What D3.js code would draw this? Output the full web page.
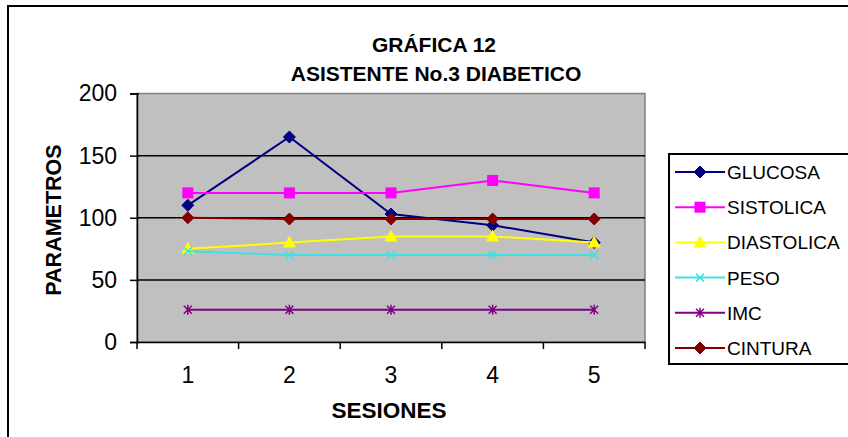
<!DOCTYPE html>
<html><head><meta charset="utf-8">
<script src="https://cdn.jsdelivr.net/npm/d3@7"></script>
<style>html,body{margin:0;padding:0;background:#fff;overflow:hidden}</style>
</head><body>
<svg id="c" width="848" height="437"></svg>
<script>
const sessions = ["1","2","3","4","5"];
const yTicks = [0,50,100,150,200];
const seriesNames = ["GLUCOSA","SISTOLICA","DIASTOLICA","PESO","IMC","CINTURA"];
const glucosa    = [110,165,103,94,80];
const sistolica  = [120,120,120,130,120];
const diastolica = [75,80,85,85,80];
const peso       = [73,70,70,70,70];
const imc        = [26,26,26,26,26];
const cintura    = [100,99,99,99,99];
const seriesColors = ["#000080","#FF00FF","#FFFF00","#40E0E0","#800080","#800000"];
const seriesMarkers = ["diamond","square","triangle","x","star","diamond"];
const seriesValues = [glucosa,sistolica,diastolica,peso,imc,cintura];

const svg = d3.select("#c");
const font = "'Liberation Sans', Arial, sans-serif";

// outer frame
svg.append("rect").attr("x",8).attr("y",6).attr("width",900).attr("height",460)
  .attr("fill","#fff").attr("stroke","#000").attr("stroke-width",2);

const L=137, R=645, T=93.5, B=342;
const x = d3.scaleBand().domain(sessions).range([L,R]);
const y = d3.scaleLinear().domain([0,200]).range([B,T]);

// plot area
svg.append("rect").attr("x",L).attr("y",T).attr("width",R-L).attr("height",B-T)
  .attr("fill","#C0C0C0").attr("stroke","#808080").attr("stroke-width",1.5);

// gridlines
svg.append("g").selectAll("line").data(yTicks.filter(d=>d>0&&d<200)).join("line")
  .attr("x1",L).attr("x2",R).attr("y1",d=>y(d)).attr("y2",d=>y(d))
  .attr("stroke","#000").attr("stroke-width",1.5);

// axes
const yAxis = d3.axisLeft(y).tickValues(yTicks).tickSize(7).tickPadding(13);
const gy = svg.append("g").attr("transform",`translate(${L},0)`).call(yAxis);
gy.select(".domain").attr("stroke","#000").attr("stroke-width",1.5);
gy.selectAll(".tick line").attr("stroke","#000").attr("stroke-width",1.5).attr("x1",2).attr("x2",-7);
gy.selectAll(".tick text").attr("font-family",font).attr("font-size",23).attr("fill","#000");

const xAxis = d3.axisBottom(x).tickSize(0).tickPadding(25);
const gx = svg.append("g").attr("transform",`translate(0,${B})`).call(xAxis);
gx.select(".domain").attr("stroke","#000").attr("stroke-width",1.5);
gx.selectAll(".tick text").attr("font-family",font).attr("font-size",23).attr("fill","#000");
gx.append("g").selectAll("line").data(sessions).join("line")
  .attr("x1",d=>x(d)).attr("x2",d=>x(d)).attr("y1",0).attr("y2",7)
  .attr("stroke","#000").attr("stroke-width",1.5);
gx.append("line").attr("x1",R).attr("x2",R).attr("y1",0).attr("y2",7)
  .attr("stroke","#000").attr("stroke-width",1.5);

// titles
svg.append("text").attr("x",434).attr("y",52).attr("text-anchor","middle")
  .attr("font-family",font).attr("font-weight","bold").attr("font-size",21).text("GRÁFICA 12");
svg.append("text").attr("x",436).attr("y",81).attr("text-anchor","middle")
  .attr("font-family",font).attr("font-weight","bold").attr("font-size",21).text("ASISTENTE No.3 DIABETICO");
svg.append("text").attr("x",389).attr("y",418).attr("text-anchor","middle")
  .attr("font-family",font).attr("font-weight","bold").attr("font-size",22.5).text("SESIONES");
svg.append("text").attr("transform","translate(61,220) rotate(-90)").attr("text-anchor","middle")
  .attr("font-family",font).attr("font-weight","bold").attr("font-size",21.5).text("PARAMETROS");

function marker(g, type, color, cx, cy){
  if(type==="diamond"){
    g.append("path").attr("d",`M${cx},${cy-6}L${cx+6},${cy}L${cx},${cy+6}L${cx-6},${cy}Z`)
      .attr("fill",color).attr("stroke",color).attr("stroke-width",1);
  } else if(type==="square"){
    g.append("rect").attr("x",cx-5.5).attr("y",cy-5.5).attr("width",11).attr("height",11).attr("fill",color);
  } else if(type==="triangle"){
    g.append("path").attr("d",`M${cx},${cy-7}L${cx+6.5},${cy+5}L${cx-6.5},${cy+5}Z`).attr("fill",color);
  } else if(type==="x"){
    g.append("path").attr("d",`M${cx-4},${cy-4}L${cx+4},${cy+4}M${cx-4},${cy+4}L${cx+4},${cy-4}`)
      .attr("stroke",color).attr("stroke-width",1.5);
  } else if(type==="star"){
    g.append("path").attr("d",`M${cx-4},${cy-4}L${cx+4},${cy+4}M${cx-4},${cy+4}L${cx+4},${cy-4}M${cx},${cy-5}L${cx},${cy+5}`)
      .attr("stroke",color).attr("stroke-width",1.5);
  }
}

const line = d3.line().x((d,i)=>x(sessions[i])+x.bandwidth()/2).y(d=>y(d));
seriesValues.forEach((vals,si)=>{
  const g = svg.append("g");
  g.append("path").attr("d",line(vals)).attr("fill","none")
    .attr("stroke",seriesColors[si]).attr("stroke-width",2);
  vals.forEach((v,i)=>marker(g,seriesMarkers[si],seriesColors[si],x(sessions[i])+x.bandwidth()/2,y(v)));
});

// legend
const lg = svg.append("g");
lg.append("rect").attr("x",669).attr("y",154).attr("width",200).attr("height",210)
  .attr("fill","#fff").attr("stroke","#000").attr("stroke-width",2);
seriesNames.forEach((n,i)=>{
  const cy = 172 + i*35.2;
  lg.append("line").attr("x1",675).attr("x2",725).attr("y1",cy).attr("y2",cy)
    .attr("stroke",seriesColors[i]).attr("stroke-width",2);
  marker(lg,seriesMarkers[i],seriesColors[i],700,cy);
  lg.append("text").attr("x",727).attr("y",cy+7).attr("font-family",font).attr("font-size",19).text(n);
});
</script>
</body></html>
